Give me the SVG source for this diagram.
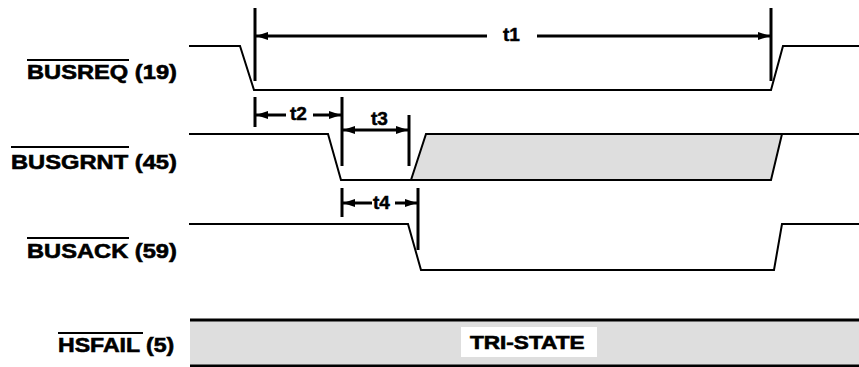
<svg xmlns="http://www.w3.org/2000/svg" width="859" height="367" viewBox="0 0 859 367">
<defs>
<marker id="ah" viewBox="0 0 12 8" refX="12" refY="4" markerWidth="12" markerHeight="8" markerUnits="userSpaceOnUse" orient="auto-start-reverse">
<path d="M0,0 L12,4 L0,8 Z" fill="#000"/>
</marker>
</defs>
<style>
.sig{fill:none;stroke:#000;stroke-width:2;stroke-linejoin:miter}
.lbl{font-family:"Liberation Sans",Arial,sans-serif;font-weight:bold;font-size:20px;fill:#000;stroke:#000;stroke-width:0.6}
.tl{font-family:"Liberation Sans",Arial,sans-serif;font-weight:bold;font-size:19px;fill:#000;stroke:#000;stroke-width:0.5}
.ov{stroke:#000;stroke-width:2}
.mk{stroke:#000;stroke-width:3}
.ar{stroke:#000;stroke-width:3;fill:none}
.shade{fill:#dedede;stroke:#000;stroke-width:2}
</style>
<rect width="859" height="367" fill="#fff"/>

<g id="busreq">
<text class="lbl" transform="translate(27,79) scale(1.184,1)" x="0" y="0">BUSREQ (19)</text>
<line class="ov" x1="27" y1="60" x2="129" y2="60"/>
<polyline class="sig" points="189,46 240,46 254,90 771,90 783,46 859,46"/>
</g>

<g id="busgrnt">
<text class="lbl" transform="translate(11,169) scale(1.186,1)" x="0" y="0">BUSGRNT (45)</text>
<line class="ov" x1="11" y1="147" x2="129" y2="147"/>
<polyline class="sig" points="189,134 328,134 341,180 411,180"/>
<polygon class="shade" points="411,180 426,134 782,134 771,180"/>
<line class="sig" x1="782" y1="134" x2="859" y2="134"/>
</g>

<g id="busack">
<text class="lbl" transform="translate(27,258) scale(1.184,1)" x="0" y="0">BUSACK (59)</text>
<line class="ov" x1="27" y1="238" x2="129" y2="238"/>
<polyline class="sig" points="189,224 408,224 421,270 774,270 782,224 859,224"/>
</g>

<g id="hsfail">
<text class="lbl" transform="translate(58,352) scale(1.155,1)" x="0" y="0">HSFAIL (5)</text>
<line class="ov" x1="58" y1="333" x2="143" y2="333"/>
<rect x="190" y="320" width="669" height="46" fill="#dedede"/>
<line x1="190" y1="320" x2="859" y2="320" stroke="#000" stroke-width="3"/>
<line x1="190" y1="366" x2="859" y2="366" stroke="#000" stroke-width="3"/>
<rect x="461" y="327" width="136" height="30" fill="#fff"/>
<text class="lbl" style="font-size:18px" transform="translate(470,349) scale(1.255,1)" x="0" y="0">TRI-STATE</text>
</g>

<g id="connectors">
<line class="mk" x1="255" y1="8" x2="255" y2="81"/>
<line class="mk" x1="771" y1="8" x2="771" y2="81"/>
<line class="ar" x1="487" y1="36" x2="256" y2="36" marker-end="url(#ah)"/>
<line class="ar" x1="537" y1="36" x2="770" y2="36" marker-end="url(#ah)"/>
<text class="tl" x="503" y="41">t1</text>

<line class="mk" x1="255" y1="97" x2="255" y2="127"/>
<line class="mk" x1="342" y1="97" x2="342" y2="166"/>
<line class="ar" x1="286" y1="115" x2="256" y2="115" marker-end="url(#ah)"/>
<line class="ar" x1="313" y1="115" x2="341" y2="115" marker-end="url(#ah)"/>
<text class="tl" x="290" y="120">t2</text>

<line class="mk" x1="409" y1="115" x2="409" y2="166"/>
<line class="ar" x1="343" y1="130" x2="408" y2="130" marker-start="url(#ah)" marker-end="url(#ah)"/>
<text class="tl" x="371" y="125">t3</text>

<line class="mk" x1="342" y1="188" x2="342" y2="217"/>
<line class="mk" x1="418" y1="188" x2="418" y2="250"/>
<line class="ar" x1="372" y1="203" x2="343" y2="203" marker-end="url(#ah)"/>
<line class="ar" x1="395" y1="203" x2="417" y2="203" marker-end="url(#ah)"/>
<text class="tl" x="373" y="209">t4</text>
</g>
</svg>
